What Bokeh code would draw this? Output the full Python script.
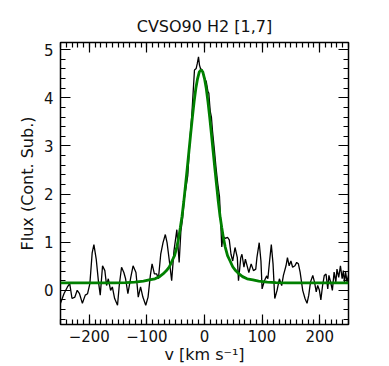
from bokeh.plotting import figure
from bokeh.models import LinearAxis, SingleIntervalTicker, Range1d, CustomJSTickFormatter
from bokeh.embed import file_html
from bokeh.resources import INLINE

title_text = "CVSO90 H2 [1,7]"
x_label = "v [km s\u207b\u00b9]"
y_label = "Flux (Cont. Sub.)"

# observed spectrum (velocity, flux)
vel = [-250, -244, -238, -234, -230, -225, -221, -217, -212, -207, -203, -199,
       -195, -192, -188, -184, -181, -177, -173, -170, -167, -163, -160, -156,
       -151, -148, -144, -140, -137, -133, -128, -124, -119, -115, -111, -107,
       -102, -98, -94, -91, -87, -83, -80, -76, -72, -68, -65, -61, -57, -53,
       -48, -44, -41, -38, -35, -32, -29, -25, -22, -20, -17.4, -14.4, -12.6,
       -10.4, -8.7, -7, -4, 0, 3, 6, 7.5, 9, 10, 12, 14, 17, 20, 23, 26, 28,
       30, 32, 36, 40, 43, 46, 49, 53, 57, 59, 63, 65, 68.5, 71, 74, 77, 81,
       85, 89, 91, 95, 98, 100, 104, 108, 110, 113, 116, 119, 122, 126, 130,
       134, 137, 141.5, 144, 147, 150, 153, 157, 160, 163, 166, 170.5, 174.5,
       178, 181, 184, 188, 191, 194, 196.5, 199.5, 202, 205, 208, 211, 214,
       216, 219, 222, 225, 228, 230, 233, 236, 239, 241, 243, 245, 247.5, 250]
flux = [-0.27, -0.07, 0.07, 0.14, -0.17, -0.14, 0.0, -0.07, -0.27, -0.10, -0.07, 0.14,
        0.78, 0.95, 0.65, 0.17, -0.10, 0.51, 0.41, 0.10, 0.24, 0.00, 0.07, -0.17,
        -0.31, 0.10, 0.48, 0.37, 0.24, -0.07, 0.27, 0.51, 0.37, -0.14, 0.07, -0.14,
        -0.31, -0.14, 0.31, 0.55, 0.34, 0.34, 0.24, 0.75, 0.99, 1.16, 0.99, 0.61, 0.20, 0.82,
        1.26, 0.58, 1.23, 1.50, 1.91, 2.15, 2.39, 3.18, 3.65, 4.06, 4.58, 4.61, 4.71,
        4.85, 4.68, 4.61, 4.58, 4.41, 4.34, 4.13, 4.10, 3.86, 3.72, 3.60, 3.30, 2.94, 2.55, 2.22, 1.95, 1.45,
        0.90, 1.12, 1.08, 1.10, 1.05, 0.75, 0.61, 0.89, 0.68, 0.20, 0.68, 0.75, 0.48, 0.65, 0.51, 0.37, 0.55,
        0.41, 0.44, 0.68, 0.99, 0.61, 0.03, 0.20, 0.30, 0.24, 0.61, 0.95, 0.55, -0.17, 0.00, 0.24,
        0.10, 0.31, 0.51, 0.68, 0.51, 0.61, 0.48, 0.51, 0.58, 0.55, 0.38, 0.00, -0.17,
        -0.27, -0.10, 0.17, 0.31, 0.17, -0.03, 0.10, 0.00, -0.20, 0.10, 0.31, 0.34, 0.03,
        0.31, 0.17, 0.00, 0.38, 0.17, 0.44, 0.27, 0.51, 0.24, 0.41, 0.17, 0.38, 0.17, 0.31]

# fitted profile (velocity, flux)
fit_vel = [-250, -200, -156, -136, -121, -106, -96, -86, -78, -72, -66, -61, -56, -52,
           -48, -45, -42, -39, -36, -33, -30, -27, -24, -21, -18, -15, -12, -9, -6,
           -3, 0, 3, 6, 9, 12, 15, 18, 21, 24, 27, 30, 33, 36, 40, 44, 49, 54, 60,
           66, 74, 84, 94, 109, 124, 144, 194, 250]
fit_flux = [0.155, 0.156, 0.157, 0.160, 0.170, 0.190, 0.215, 0.240, 0.285, 0.340, 0.410, 0.490, 0.620, 0.720,
            0.900, 1.080, 1.300, 1.540, 1.840, 2.180, 2.530, 2.890, 3.250, 3.600, 3.920, 4.200, 4.400, 4.540, 4.580,
            4.540, 4.400, 4.200, 3.920, 3.600, 3.250, 2.890, 2.530, 2.180, 1.840, 1.540, 1.300, 1.080, 0.900, 0.720, 0.620, 0.490, 0.410,
            0.340, 0.285, 0.240, 0.215, 0.190, 0.170, 0.160, 0.157, 0.156, 0.155]

x_ticks_major = 100
y_ticks_major = 1

FONT = "DejaVu Sans"

p = figure(width=389, height=366, output_backend="svg", toolbar_location=None,
           x_range=Range1d(-250, 250), y_range=Range1d(-0.71, 5.15),
           title=title_text, min_border_left=60, min_border_right=41,
           min_border_top=42, min_border_bottom=0)

p.title.align = "center"
p.title.text_font = FONT
p.title.text_font_size = "16px"
p.title.text_font_style = "normal"
p.title.text_color = "#111111"
p.title.standoff = 13

p.grid.visible = False
p.outline_line_color = "black"
p.outline_line_width = 1.5

xt = SingleIntervalTicker(interval=x_ticks_major, num_minor_ticks=10)
yt = SingleIntervalTicker(interval=y_ticks_major, num_minor_ticks=5)

for ax, tk in ((p.xaxis[0], xt), (p.yaxis[0], yt)):
    ax.ticker = tk
    ax.axis_line_color = None
    ax.major_tick_in = 10
    ax.major_tick_out = 0
    ax.minor_tick_in = 5
    ax.minor_tick_out = 0
    ax.major_tick_line_width = 1.2
    ax.minor_tick_line_width = 1.2
    ax.major_label_text_font = FONT
    ax.major_label_text_font_size = "15px"
    ax.major_label_text_color = "#111111"
    ax.axis_label_text_font = FONT
    ax.axis_label_text_font_size = "16px"
    ax.axis_label_text_font_style = "normal"
    ax.axis_label_text_color = "#111111"

p.xaxis[0].axis_label = x_label
p.yaxis[0].axis_label = y_label
p.xaxis[0].major_label_standoff = 5
p.xaxis[0].axis_label_standoff = 0
p.yaxis[0].major_label_standoff = 7
p.yaxis[0].axis_label_standoff = 4

blank = CustomJSTickFormatter(code="return ''")
for side, tk in (("above", xt), ("right", yt)):
    ax = LinearAxis(ticker=tk, formatter=blank)
    ax.axis_line_color = None
    ax.major_tick_in = 10
    ax.major_tick_out = 0
    ax.minor_tick_in = 5
    ax.minor_tick_out = 0
    ax.major_tick_line_width = 1.2
    ax.minor_tick_line_width = 1.2
    ax.major_label_standoff = 0
    p.add_layout(ax, side)

p.line(vel, flux, line_color="black", line_width=1.3)
p.line(fit_vel, fit_flux, line_color="#008000", line_width=2.8)

open("out.html", "w").write(file_html(p, INLINE))
